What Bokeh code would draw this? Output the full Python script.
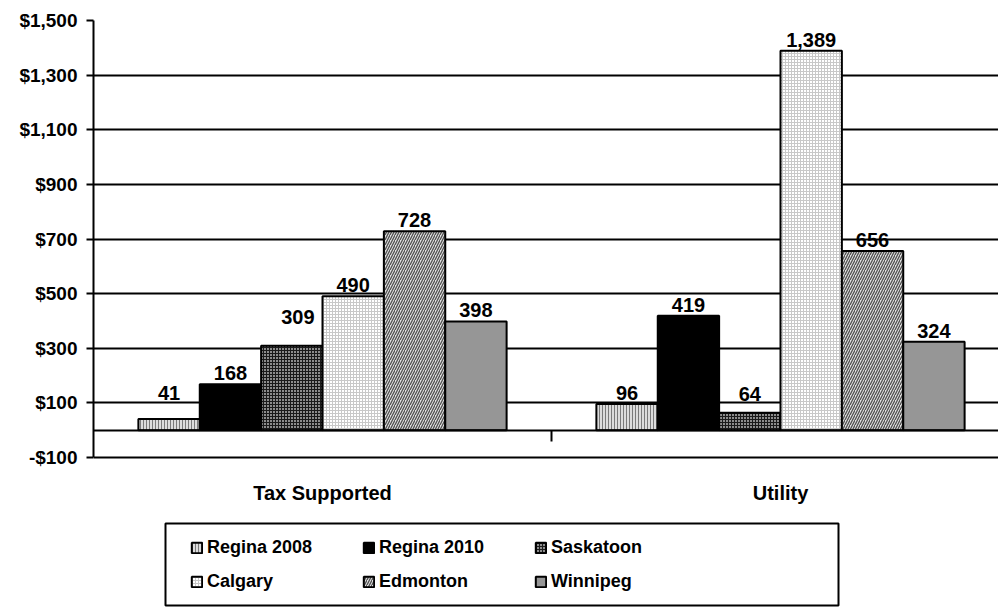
from bokeh.plotting import figure
from bokeh.models import (Range1d, FixedTicker, NumeralTickFormatter,
                          Legend, LegendItem, ColumnDataSource, BoxAnnotation)
from bokeh.core.properties import value
from bokeh.embed import file_html
from bokeh.resources import INLINE

# ---- data ----
categories = ["Tax Supported", "Utility"]
series = ["Regina 2008", "Regina 2010", "Saskatoon", "Calgary", "Edmonton", "Winnipeg"]
regina_2008 = [41, 96]
regina_2010 = [168, 419]
saskatoon = [309, 64]
calgary = [490, 1389]
edmonton = [728, 656]
winnipeg = [398, 324]
values = [regina_2008, regina_2010, saskatoon, calgary, edmonton, winnipeg]
y_ticks = [-100, 100, 300, 500, 700, 900, 1100, 1300, 1500]

# ---- styles ----
styles = [
    dict(fill_color="#dcdcdc", hatch_pattern="|", hatch_color="#7a7a7a", hatch_scale=3, hatch_weight=1),
    dict(fill_color="#000000"),
    dict(fill_color="#8c8c8c", hatch_pattern="+", hatch_color="#1a1a1a", hatch_scale=3, hatch_weight=1),
    dict(fill_color="#ffffff", hatch_pattern="+", hatch_color="#c8c8c8", hatch_scale=3, hatch_weight=1),
    dict(fill_color="#e2e2e2", hatch_pattern="/", hatch_color="#505050", hatch_scale=5, hatch_weight=1.3),
    dict(fill_color="#969696"),
]
FONT = "Liberation Sans"
W, H = 998, 615
LEFT, TOP = 93, 20
PX_PER_UNIT = 437 / 1600.0          # vertical scale of the original
CAT_PX = 458                        # width of one category slot in pixels
bar_w = 0.134
# label nudges seen in the original: (category, series) -> (dx px, extra lift px)
label_nudge = {(0, 2): (6, 18), (0, 0): (0, 15), (1, 2): (0, 8)}

frame_w = W - LEFT
frame_h = H - TOP
y_end = y_ticks[-1]
y_start = y_end - frame_h / PX_PER_UNIT

p = figure(width=W, height=H, frame_width=frame_w, frame_height=frame_h,
           min_border_left=LEFT, min_border_right=0, min_border_top=TOP, min_border_bottom=0,
           output_backend="svg", toolbar_location=None,
           x_range=Range1d(0, frame_w / CAT_PX), y_range=Range1d(y_start, y_end))
p.outline_line_color = None
p.background_fill_color = "white"
p.border_fill_color = "white"

# y axis
p.yaxis.ticker = FixedTicker(ticks=y_ticks)
p.yaxis.bounds = (y_ticks[0], y_ticks[-1])
p.yaxis.formatter = NumeralTickFormatter(format="$0,0")
p.yaxis.axis_line_width = 2
p.yaxis.axis_line_color = "black"
p.yaxis.major_tick_line_width = 2
p.yaxis.major_tick_out = 7
p.yaxis.major_tick_in = 0
p.yaxis.minor_tick_line_color = None
p.yaxis.major_label_text_font = FONT
p.yaxis.major_label_text_font_style = "bold"
p.yaxis.major_label_text_font_size = "19px"
p.yaxis.major_label_text_color = "black"
p.yaxis.major_label_standoff = 9

p.ygrid.ticker = FixedTicker(ticks=y_ticks)
p.ygrid.grid_line_color = "black"
p.ygrid.grid_line_width = 2
p.xgrid.grid_line_color = None

# category axis at zero
p.xaxis.fixed_location = 0
p.xaxis.ticker = FixedTicker(ticks=[1, 2])
p.xaxis.major_label_overrides = {1: "", 2: ""}
p.xaxis.axis_line_width = 2
p.xaxis.axis_line_color = "black"
p.xaxis.major_tick_line_width = 2
p.xaxis.major_tick_out = 11
p.xaxis.major_tick_in = 0
p.xaxis.minor_tick_line_color = None

# category labels under the -100 line
cat_src = ColumnDataSource(dict(x=[i + 0.5 for i in range(len(categories))],
                                y=[y_ticks[0]] * len(categories), text=categories))
p.text(x="x", y="y", text="text", source=cat_src, y_offset=35,
       text_font=value(FONT), text_font_style="bold", text_font_size="20px",
       text_align="center", text_baseline="middle", text_color="black")

renderers = {}
n = len(series)
for si, (name, vals) in enumerate(zip(series, values)):
    xs = [ci + 0.5 + (si - (n - 1) / 2) * bar_w for ci in range(len(categories))]
    src = ColumnDataSource(dict(x=xs, top=vals,
                                label=[f"{v:,}" for v in vals],
                                dx=[label_nudge.get((ci, si), (0, 0))[0] for ci in range(len(categories))],
                                dy=[-4 - label_nudge.get((ci, si), (0, 0))[1] for ci in range(len(categories))]))
    r = p.vbar(x="x", top="top", bottom=0, width=bar_w, source=src,
               line_color="black", line_width=2, **styles[si])
    p.text(x="x", y="top", text="label", source=src, x_offset="dx", y_offset="dy",
           text_font=value(FONT), text_font_style="bold", text_font_size="20px",
           text_align="center", text_baseline="bottom", text_color="black")
    renderers[name] = r

# legend is filled column by column; arrange so rows read like the original
ncols = 3
order = [series[c + r * ncols] for c in range(ncols) for r in range(len(series) // ncols)]
items = [LegendItem(label=name, renderers=[renderers[name]]) for name in order]

# legend frame (box of the original legend, in screen px relative to the plot frame)
legend_box = BoxAnnotation(left=165 - LEFT, right=838 - LEFT, bottom=H - 605, top=H - 523,
                           left_units="screen", right_units="screen",
                           bottom_units="screen", top_units="screen",
                           fill_color="white", fill_alpha=1,
                           line_color="black", line_alpha=1, line_width=2)
p.add_layout(legend_box)

legend = Legend(items=items, ncols=ncols, location=(190 - 15 - LEFT, H - 607))
legend.label_text_font = FONT
legend.label_text_font_style = "bold"
legend.label_text_font_size = "18px"
legend.label_text_color = "black"
legend.glyph_width = 13
legend.glyph_height = 13
legend.label_standoff = 4
legend.label_width = 142
legend.label_height = 20
legend.spacing = 13
legend.padding = 15
legend.margin = 0
legend.border_line_alpha = 0
legend.background_fill_alpha = 0
p.add_layout(legend, "center")

open("out.html", "w").write(file_html(p, INLINE))
